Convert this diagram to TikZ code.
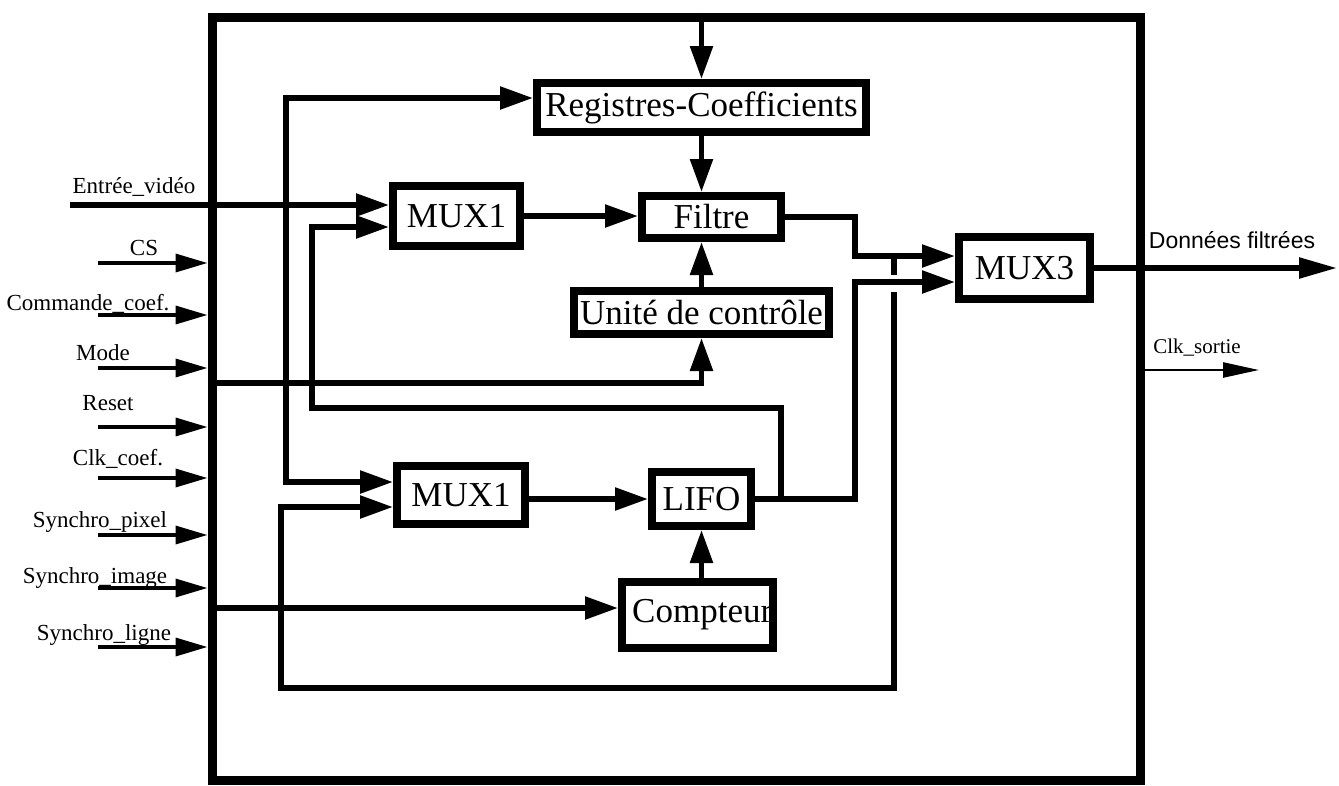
\documentclass[tikz,border=0pt]{standalone}
\usepackage{fontspec}
\setmainfont{Liberation Serif}
\newfontfamily\lsans{Liberation Sans}
\usetikzlibrary{arrows.meta}
\begin{document}
\begin{tikzpicture}[x=1pt,y=-1pt,
  wire/.style={line width=5.5pt},
  arr/.style={-{Triangle[length=33pt,width=22pt]}},
  arrs/.style={{Triangle[length=33pt,width=22pt]}-{Triangle[length=33pt,width=22pt]}},
  inarr/.style={line width=3.5pt,-{Triangle[length=32pt,width=18pt]}},
  blk/.style={draw,line width=8pt,inner sep=0pt,font=\fontsize{35}{41}\selectfont},
  lbl/.style={font=\fontsize{23}{27}\selectfont,anchor=base,inner sep=0pt},
]
\useasboundingbox (0,0) rectangle (1339,785);
% frame
\node[draw,line width=9pt,minimum width=928pt,minimum height=763pt,inner sep=0pt] (frame) at (676,398.5) {};
% blocks
\node[blk,minimum width=329pt,minimum height=49pt] (reg) at (701.5,107.5) {Registres-Coefficients};
\node[blk,minimum width=139pt,minimum height=42pt] (fil) at (711.5,217) {Filtre};
\node[blk,minimum width=127pt,minimum height=60pt] (m1a) at (456.5,216) {MUX1};
\node[blk,minimum width=255pt,minimum height=43pt] (uc) at (701.5,312.5) {Unité de contrôle};
\node[blk,minimum width=128pt,minimum height=58pt] (m1b) at (461,495) {MUX1};
\node[blk,minimum width=99pt,minimum height=54pt] (lifo) at (701.5,499) {LIFO};
\node[blk,minimum width=151pt,minimum height=66pt] (cpt) at (697.5,615) {};
\node[font=\fontsize{35}{41}\selectfont,anchor=west,inner sep=0pt] (cpttxt) at (632,615) {Compteur};
\node[blk,minimum width=131pt,minimum height=62pt] (m3) at (1024.5,268) {MUX3};
% pins
\coordinate (ev) at (70,205);
\coordinate (m1a-in1) at (m1a.west |- 0,205);
\coordinate (m1a-in2) at (m1a.west |- 0,227);
\coordinate (m1b-in1) at (m1b.west |- 0,482);
\coordinate (m1b-in2) at (m1b.west |- 0,507);
\coordinate (m3-in1) at (m3.west |- 0,256);
\coordinate (m3-in2) at (m3.west |- 0,282);
\coordinate (out) at (1337,268);
\coordinate (clk) at (1259,370);
% internal wires
\draw[wire,arr] (frame.north -| reg.north) -- (reg.north);
\draw[wire,arr] (reg.south) -- (reg.south |- fil.north);
\draw[wire,arr] (uc.north) -- (uc.north |- fil.south);
\draw[wire,arr] (m1a.east) -- (m1a.east -| fil.west);
\draw[wire,arr] (m1b.east |- lifo.west) -- (lifo.west);
\draw[wire,arr] (lifo.south |- cpt.north) -- (lifo.south);
\draw[wire,arr] (ev) -- (m1a-in1);
\draw[wire,arr] (frame.west |- 0,383) -| (uc.south);
\draw[wire,arr] (frame.west |- 0,608) -- (cpt.west |- 0,608);
\draw[wire,arrs] (m1b-in1) -| (286,98) -- (reg.west |- 0,98);
\draw[wire,arr] (fil.east) -| (855,256) -- (m3-in1);
\draw[wire,arr] (lifo.east) -| (855,282) -- (m3-in2);
\draw[wire,arr] (781,499) |- (312,408) |- (m1a-in2);
\draw[wire] (894,256) -- (894,275);
\draw[wire,arr] (894,292) |- (281,688) |- (m1b-in2);
% outputs
\draw[wire,-{Triangle[length=38pt,width=20pt]}] (m3.east) -- (out);
\draw[line width=2.5pt,-{Triangle[length=36pt,width=15pt]}] (frame.east |- clk) -- (clk);
\node[font=\lsans\fontsize{23}{27}\selectfont,anchor=base,inner sep=0pt] (lout) at (1232,248) {Données filtrées};
\node[font=\fontsize{21}{25}\selectfont,anchor=base,inner sep=0pt] (lclk) at (1197,353) {Clk\_sortie};
% left inputs
\node[lbl] (l0) at (134,193) {Entrée\_vidéo};
\foreach \nm/\lx/\ly/\ay/\txt in {cs/144/255/263/CS, cmd/88/310/315/Commande\_coef., mode/103/360/368/Mode, rst/108/410/427/Reset, clkc/118/465/478/Clk\_coef., spx/100/527/535/Synchro\_pixel, sim/95/583/588/Synchro\_image, sli/104/640/647/Synchro\_ligne}{
  \node[lbl] (l-\nm) at (\lx,\ly) {\txt};
  \coordinate (s-\nm) at (98,\ay);
  \draw[inarr] (s-\nm) -- (s-\nm -| frame.west);
}
\end{tikzpicture}
\end{document}
